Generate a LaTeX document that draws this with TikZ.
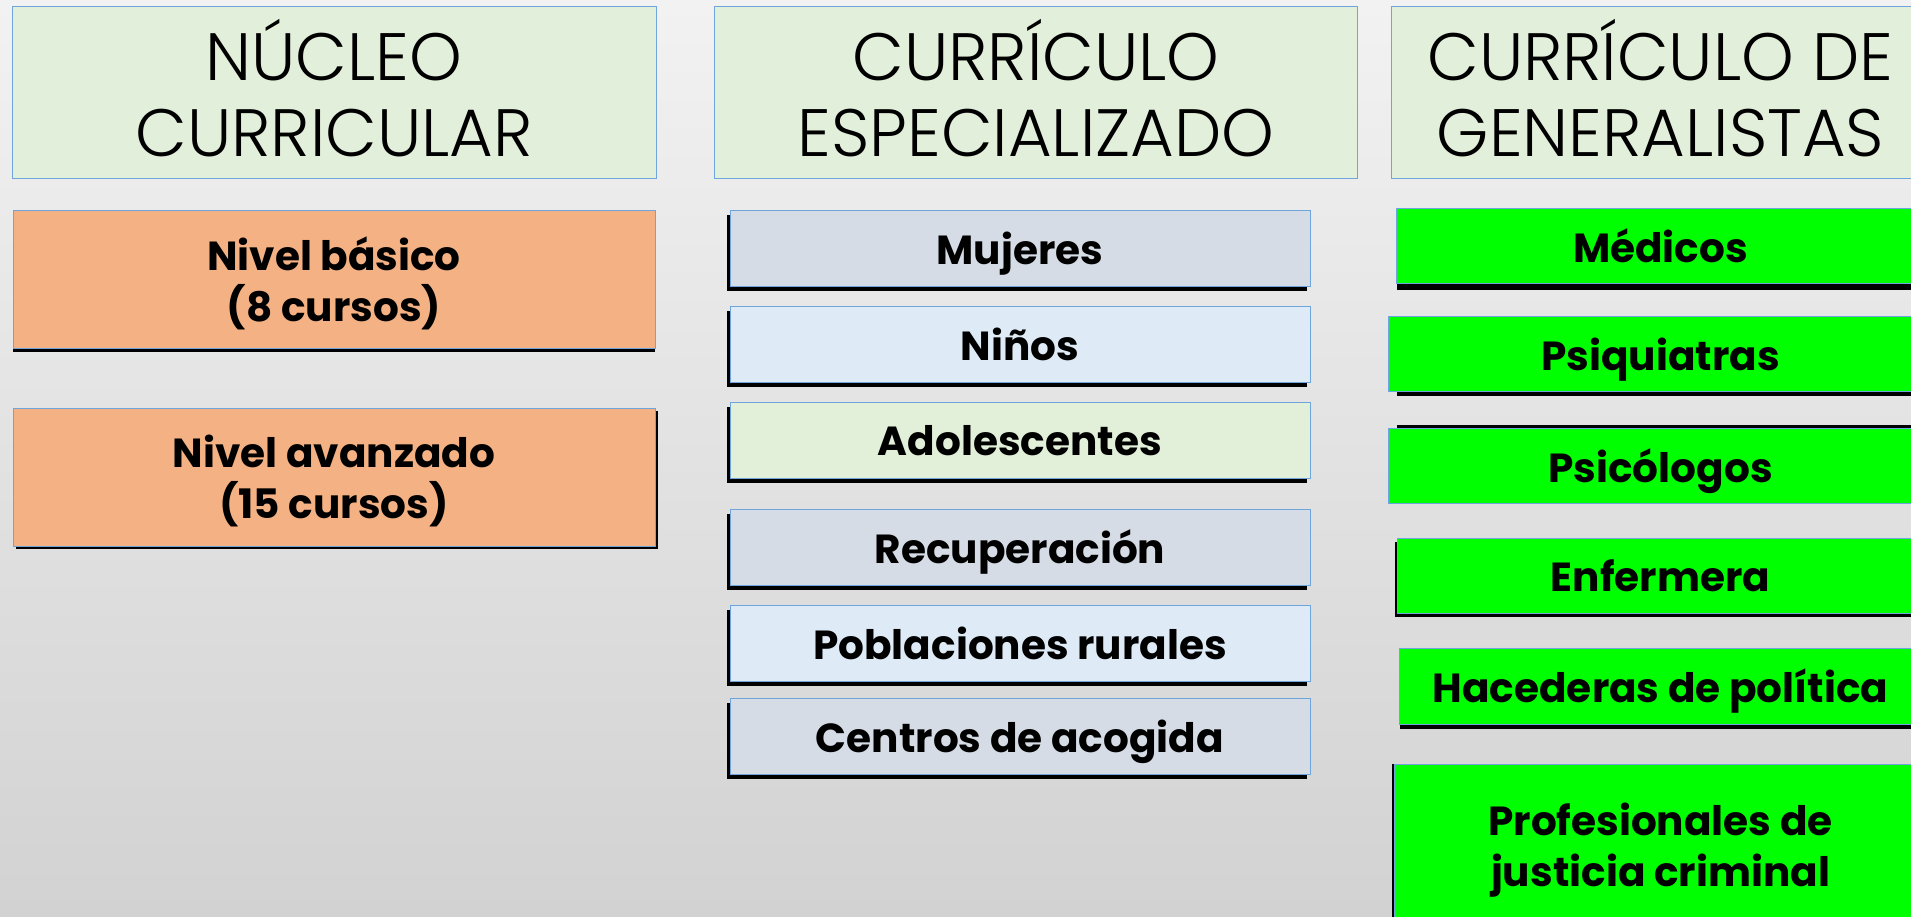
\documentclass[tikz,border=0pt]{standalone}
\usepackage{fontspec}
\setmainfont{Poppins}
\newfontfamily\headfont{Poppins Light}
\usepackage{tikz}
\usetikzlibrary{shadows}
\definecolor{bgtop}{RGB}{242,242,242}
\definecolor{bgbot}{RGB}{210,210,210}
\definecolor{edge}{RGB}{110,165,220}
\definecolor{hdr}{RGB}{226,239,218}
\definecolor{naranja}{RGB}{244,177,131}
\definecolor{gris}{RGB}{214,220,229}
\definecolor{celeste}{RGB}{222,235,247}
\definecolor{verdeclaro}{RGB}{226,240,217}
\definecolor{verde}{RGB}{0,255,0}

\begin{document}
\begin{tikzpicture}[x=0.5pt,y=-0.5pt,
  head/.style={draw=edge,line width=0.5pt,fill=hdr,align=center,inner sep=0pt,text depth=4pt,
    font=\headfont\fontsize{33.5}{38}\selectfont},
  item/.style={draw=edge,line width=0.5pt,align=center,inner sep=0pt,text depth=0pt,
    font=\bfseries\fontsize{20.3}{25.5}\selectfont},
  sh/.style 2 args={drop shadow={shadow xshift=#1,shadow yshift=#2,fill=black,opacity=1}}]
\useasboundingbox (0,0) rectangle (1911,916);
\clip (0,0) rectangle (1911,916);
\shade[top color=bgtop,bottom color=bgbot] (0,0) rectangle (1911,916);
%
% columna 1
\node[head,minimum width=322pt,minimum height=86pt] (nucleo) at (334,92) {NÚCLEO\\CURRICULAR};
\node[item,fill=naranja,minimum width=321pt,minimum height=69pt,sh={0pt}{-2pt}] (basico) at (334,279) {Nivel básico\\(8 cursos)};
\node[item,fill=naranja,minimum width=321pt,minimum height=69pt,sh={1.5pt}{-1.5pt}] (avanzado) at (334,477) {Nivel avanzado\\(15 cursos)};
%
% columna 2
\node[head,minimum width=321.5pt,minimum height=86pt] (especial) at (1036,92) {CURRÍCULO\\ESPECIALIZADO};
\node[item,fill=gris,minimum width=290pt,minimum height=38pt,sh={-1.5pt}{-2.5pt}] (mujeres) at (1020,248) {Mujeres};
\node[item,fill=celeste,minimum width=290pt,minimum height=38pt,sh={-1.5pt}{-2.5pt}] (ninos) at (1020,344) {Niños};
\node[item,fill=verdeclaro,minimum width=290pt,minimum height=38pt,sh={-1.5pt}{-2.5pt}] (adol) at (1020,440) {Adolescentes};
\node[item,fill=gris,minimum width=290pt,minimum height=38pt,sh={-1.5pt}{-2.5pt}] (recup) at (1020,547) {Recuperación};
\node[item,fill=celeste,minimum width=290pt,minimum height=38pt,sh={-1.5pt}{-2.5pt}] (rural) at (1020,643) {Poblaciones rurales};
\node[item,fill=gris,minimum width=290pt,minimum height=38pt,sh={-1.5pt}{-2.5pt}] (acogida) at (1020,736) {Centros de acogida};
%
% columna 3
\node[head,anchor=west,minimum width=269pt,minimum height=86pt] (general) at (1391,92) {CURRÍCULO DE\\GENERALISTAS};
\node[item,fill=verde,anchor=west,minimum width=264pt,minimum height=37.5pt,sh={0pt}{-3pt}] (medicos) at (1396,246) {Médicos};
\node[item,fill=verde,anchor=west,minimum width=272pt,minimum height=37.5pt,sh={4pt}{-2pt}] (psiq) at (1388,354) {Psiquiatras};
\node[item,fill=verde,anchor=west,minimum width=272pt,minimum height=37.5pt,sh={4pt}{2pt}] (psic) at (1388,466) {Psicólogos};
\node[item,fill=verde,anchor=west,minimum width=263pt,minimum height=37.5pt,sh={-1.5pt}{-1.5pt}] (enferm) at (1397,576) {Enfermera};
\node[item,fill=verde,anchor=west,minimum width=261pt,minimum height=38pt,sh={0pt}{-2.5pt}] (polit) at (1399,686) {Hacederas de política};
\node[item,fill=verde,anchor=west,minimum width=266pt,minimum height=81pt,sh={-1.5pt}{0pt}] (justicia) at (1394,845) {Profesionales de\\justicia criminal};
\end{tikzpicture}
\end{document}
